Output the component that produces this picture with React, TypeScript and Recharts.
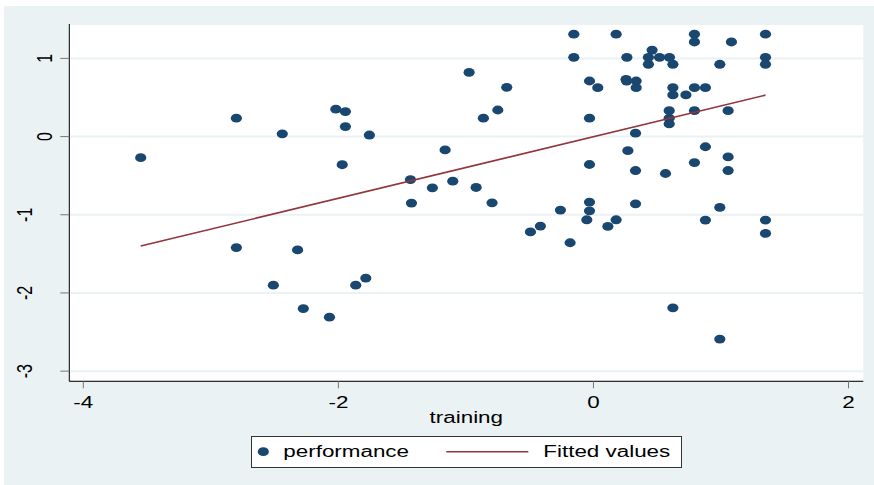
import React from 'react';
import { ScatterChart, Scatter, XAxis, YAxis, CartesianGrid, Legend } from 'recharts';

const trainingX = [
  -3.55, -2.8, -2.02, -1.945, -2.44, -1.945, -1.757, -1.97, -1.163, -1.435,
  -1.263, -1.103, -1.427, -2.8, -2.32, -2.51, -2.275, -2.07, -1.864, -1.785,
  -0.975, -0.68, -0.75, -0.863, -0.154, 0.178, 0.792, 0.792, 1.082, 1.349,
  -0.154, 0.262, 0.46, 0.431, 0.518, 0.596, 0.431, 0.623, 0.991, 1.349,
  1.349, -0.031, 0.034, 0.256, 0.26, 0.335, 0.335, 0.623, 0.623, 0.725,
  0.792, 0.878, 0.594, 0.594, 0.594, 0.792, 1.056, -0.031, 0.33, 0.27,
  0.878, 1.056, -0.031, 0.33, 0.565, 0.792, 1.056, -0.92, -0.795, -0.259,
  -0.031, -0.031, -0.052, 0.178, 0.113, 0.33, -0.494, -0.416, -0.183, 0.878,
  0.991, 1.349, 1.349, 0.623, 0.991,
];
const performanceY = [
  -0.27, 0.235, 0.35, 0.32, 0.035, 0.128, 0.02, -0.36, -0.17, -0.55,
  -0.655, -0.57, -0.85, -1.42, -1.45, -1.9, -2.2, -2.31, -1.9, -1.81,
  0.82, 0.63, 0.34, 0.235, 1.31, 1.31, 1.31, 1.21, 1.21, 1.31,
  1.014, 1.014, 1.107, 1.014, 1.014, 1.014, 0.925, 0.925, 0.925, 1.014,
  0.925, 0.711, 0.626, 0.733, 0.71, 0.711, 0.626, 0.626, 0.533, 0.533,
  0.626, 0.626, 0.332, 0.235, 0.162, 0.332, 0.332, 0.235, 0.043, -0.18,
  -0.13, -0.26, -0.357, -0.434, -0.472, -0.332, -0.434, -0.651, -0.847, -0.94,
  -0.838, -0.949, -1.064, -1.064, -1.149, -0.86, -1.22, -1.145, -1.358, -1.068,
  -0.906, -1.068, -1.239, -2.19, -2.59,
];
const fitX = [-3.55, 1.349];
const fitY = [-1.4, 0.53];
const xTicks = [-4, -2, 0, 2];
const yTicks = [-3, -2, -1, 0, 1];
const seriesNames = ['performance', 'Fitted values'];
const xTitle = 'training';

const points = trainingX.map((x, i) => ({ x, y: performanceY[i] }));
const fitted = fitX.map((x, i) => ({ x, y: fitY[i] }));

const NAVY = '#1A476F';
const MAROON = '#90353B';
const BG = '#EAF2F3';
const FONT = '"Liberation Sans", Arial, Helvetica, sans-serif';
const SX = 1.4;

const Dot = (props: any) => {
  const { cx, cy } = props;
  if (cx == null || cy == null) return <g />;
  return <ellipse cx={cx} cy={cy} rx={5.6} ry={4.4} fill={NAVY} />;
};

const NoDot = () => <g />;

const XTick = (props: any) => {
  const { x, y, payload } = props;
  return (
    <text
      transform={`translate(${x},${y + 18}) scale(${SX},1)`}
      textAnchor="middle"
      fontSize={16}
      fontFamily={FONT}
      fill="#000"
    >
      {String(payload.value)}
    </text>
  );
};

const YTick = (props: any) => {
  const { x, y, payload } = props;
  const label = String(payload.value);
  const bx = x - (label.length > 1 ? 26.3 : 6.6);
  return (
    <text
      transform={`translate(${bx},${y}) scale(${SX},1) rotate(-90)`}
      textAnchor="middle"
      fontSize={16}
      fontFamily={FONT}
      fill="#000"
    >
      {label}
    </text>
  );
};

const XLabel = (props: any) => {
  const vb = props.viewBox || {};
  const cx = vb.x + vb.width / 2;
  return (
    <text
      transform={`translate(${cx},${vb.y + 42}) scale(${SX},1)`}
      textAnchor="middle"
      fontSize={16}
      fontFamily={FONT}
      fill="#000"
    >
      {xTitle}
    </text>
  );
};

const LegendBox = () => (
  <svg width={431} height={32} style={{ display: 'block' }}>
    <rect x={0.5} y={0.5} width={430} height={31} fill="#fff" stroke="#333" strokeWidth={1} />
    <ellipse cx={12.3} cy={15.7} rx={5.6} ry={4.4} fill={NAVY} />
    <text transform={`translate(32.3,21) scale(${SX},1)`} fontSize={16} fontFamily={FONT} fill="#000">
      {seriesNames[0]}
    </text>
    <line x1={195.3} x2={277.3} y1={15.7} y2={15.7} stroke={MAROON} strokeWidth={1.6} />
    <text transform={`translate(292.3,21) scale(${SX},1)`} fontSize={16} fontFamily={FONT} fill="#000">
      {seriesNames[1]}
    </text>
  </svg>
);

export default function App() {
  return (
    <div style={{ position: 'absolute', left: 0, top: 0, width: 874, height: 485, background: '#fff' }}>
      <div style={{ position: 'absolute', left: 4, top: 6, width: 870, height: 479, background: BG }} />
      <div style={{ position: 'absolute', left: 0, top: 0 }}>
        <ScatterChart
          width={874}
          height={485}
          margin={{ top: 24, right: 10.7, bottom: 73.7, left: 9.3 }}
        >
          <CartesianGrid
            vertical={false}
            horizontal={true}
            fill="#fff"
            stroke={BG}
            strokeWidth={2}
          />
          <XAxis
            type="number"
            dataKey="x"
            domain={[-4.11, 2.116]}
            ticks={xTicks}
            allowDataOverflow
            height={30}
            tickSize={7}
            tickMargin={2}
            axisLine={{ stroke: '#000', strokeWidth: 1 }}
            tickLine={{ stroke: '#777', strokeWidth: 1 }}
            tick={<XTick />}
            label={<XLabel />}
          />
          <YAxis
            type="number"
            dataKey="y"
            domain={[-3.13, 1.44]}
            ticks={yTicks}
            allowDataOverflow
            width={60}
            tickSize={9}
            tickMargin={2}
            axisLine={{ stroke: '#000', strokeWidth: 1 }}
            tickLine={{ stroke: '#777', strokeWidth: 1 }}
            tick={<YTick />}
          />
          <Legend
            layout="horizontal"
            verticalAlign="middle"
            align="center"
            wrapperStyle={{ left: 250.7, top: 436, width: 431, height: 32 }}
            content={() => <LegendBox />}
          />
          <Scatter
            name={seriesNames[0]}
            data={points}
            shape={<Dot />}
            isAnimationActive={false}
          />
          <Scatter
            name={seriesNames[1]}
            data={fitted}
            shape={<NoDot />}
            line={{ stroke: MAROON, strokeWidth: 1.6 }}
            isAnimationActive={false}
          />
        </ScatterChart>
      </div>
    </div>
  );
}
